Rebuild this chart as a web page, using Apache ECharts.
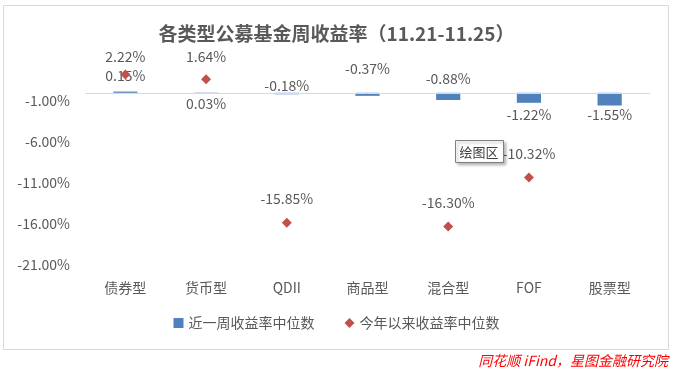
<!DOCTYPE html>
<html>
<head>
<meta charset="utf-8">
<script src="https://cdn.jsdelivr.net/npm/echarts@6/dist/echarts.min.js"></script>
<style>html,body{margin:0;padding:0;background:#fff;}#c{width:673px;height:373px;}</style>
</head>
<body>
<div id="c"></div>
<script>
const categories = ['债券型', '货币型', 'QDII', '商品型', '混合型', 'FOF', '股票型'];
const weekReturn = [0.15, 0.03, -0.18, -0.37, -0.88, -1.22, -1.55];
const ytdReturn = [2.22, 1.64, -15.85, null, -16.30, -10.32, null];
const seriesNames = ['近一周收益率中位数', '今年以来收益率中位数'];
const titleText = '各类型公募基金周收益率（11.21-11.25）';
const sourceText = '同花顺 iFind，星图金融研究院';

// label placement (style, not data)
const barLabelPos = ['top', 'bottom', 'top', 'top', 'top', 'bottom', 'bottom'];
const barLabelDist = [9, 4, 0, 17, 7, 5, 2];
const ptLabelDist = [6, 11, 12, 12, 12, 12, 12];

const FONT = '"Microsoft YaHei","Noto Sans CJK SC",sans-serif';
const TXT = '#595959';
const fmt = v => v.toFixed(2) + '%';

const chart = echarts.init(document.getElementById('c'));
chart.setOption({
  animation: false,
  textStyle: { fontFamily: FONT },
  title: {
    text: titleText, left: 'center', top: 19,
    textStyle: { fontFamily: FONT, fontSize: 19, fontWeight: 'bold', color: TXT }
  },
  grid: { left: 85, right: 23, top: 60, bottom: 108 },
  legend: {
    bottom: 38, left: 'center', itemWidth: 10, itemHeight: 10, itemGap: 30,
    textStyle: { fontFamily: FONT, fontSize: 14, color: TXT },
    data: [{ name: seriesNames[0], icon: 'rect' }, { name: seriesNames[1], icon: 'diamond' }]
  },
  xAxis: {
    type: 'category', data: categories,
    axisLine: { show: false }, axisTick: { show: false },
    axisLabel: { color: TXT, fontSize: 14, margin: 16, fontFamily: FONT }
  },
  yAxis: {
    type: 'value', min: -21, max: 4, interval: 5,
    axisLine: { show: false }, axisTick: { show: false }, splitLine: { show: false },
    axisLabel: { color: TXT, fontSize: 14, margin: 15, showMaxLabel: false, fontFamily: FONT, formatter: v => v.toFixed(2) + '%' }
  },
  series: [
    {
      name: seriesNames[0], type: 'bar', barWidth: '30%',
      itemStyle: { color: '#4F81BD' },
      data: weekReturn.map((v, i) => ({
        value: v,
        label: { show: true, position: barLabelPos[i], distance: barLabelDist[i] }
      })),
      label: { color: TXT, fontSize: 14, fontFamily: FONT, formatter: p => fmt(p.value) },
      markLine: {
        silent: true, symbol: 'none', label: { show: false },
        lineStyle: { color: '#d9d9d9', width: 1, type: 'solid' },
        data: [{ yAxis: 0 }]
      }
    },
    {
      name: seriesNames[1], type: 'scatter', symbol: 'diamond', symbolSize: 10,
      itemStyle: { color: '#C0504D', opacity: 1 },
      data: ytdReturn.map((v, i) => ({
        value: v,
        label: { show: v !== null, position: 'top', distance: ptLabelDist[i] }
      })),
      label: { color: TXT, fontSize: 14, fontFamily: FONT, opacity: 1, formatter: p => fmt(p.value) }
    }
  ],
  graphic: [
    { type: 'rect', shape: { x: 3.5, y: 5.5, width: 665, height: 344 }, style: { fill: 'none', stroke: '#d9d9d9', lineWidth: 1 }, silent: true },
    { type: 'rect', shape: { x: 455.5, y: 140.5, width: 48, height: 22 }, style: { fill: '#fff', stroke: '#7f7f7f', lineWidth: 1, shadowBlur: 3, shadowOffsetX: 2, shadowOffsetY: 2, shadowColor: 'rgba(0,0,0,0.3)' }, z: 100 },
    { type: 'text', x: 479, y: 152, style: { text: '绘图区', fill: '#404040', font: '13px ' + FONT, textAlign: 'center', textVerticalAlign: 'middle' }, z: 101 },
    { type: 'text', right: 5, top: 354, style: { text: sourceText, fill: '#ff0000', font: 'italic 14px ' + FONT }, z: 100 }
  ]
});
</script>
</body>
</html>
